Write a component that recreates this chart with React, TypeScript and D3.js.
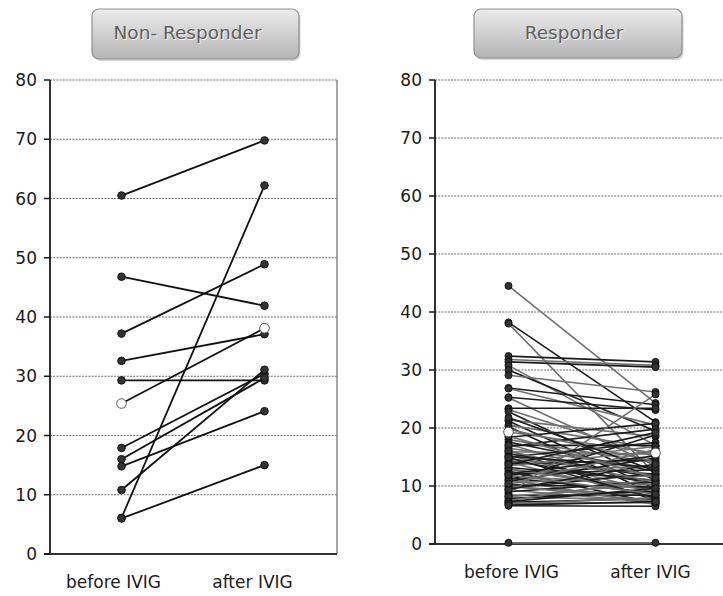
import React from "react";
import * as d3 from "d3";

// categories + tick values
const groups = ["before IVIG", "after IVIG"];
const yTicks = [0, 10, 20, 30, 40, 50, 60, 70, 80];

// Non-Responder: paired values (before -> after)
const nonRespBefore = [60.5, 46.8, 37.2, 6.1, 32.6, 25.4, 29.3, 17.9, 16.0, 14.8, 10.8, 6.0];
const nonRespAfter = [69.8, 41.9, 48.9, 62.2, 37.1, 38.1, 29.3, 30.4, 29.7, 24.1, 31.1, 15.0];
const nonRespOpen = [5];

// Responder: paired values (before -> after)
const respBefore = [
  44.5, 38.2, 38.0, 32.4, 31.8, 31.4, 30.8, 30.0, 29.1, 26.9, 26.8, 25.3, 25.2, 23.4,
  23.2, 22.8, 21.4, 21.2, 20.5, 20.2, 19.3, 18.4, 18.0, 17.6, 17.2, 16.8, 16.5, 16.2,
  15.9, 15.6, 15.3, 15.0, 14.7, 14.4, 14.1, 13.8, 13.5, 13.2, 12.9, 12.6, 12.3, 12.0,
  11.7, 11.4, 11.1, 10.8, 10.5, 10.2, 9.9, 9.6, 9.3, 9.0, 8.7, 8.4, 8.1, 7.8, 7.5, 7.2,
  6.9, 6.6, 0.2, 17.0, 14.0, 11.0, 19.8, 21.8, 16.0, 15.1, 13.0, 12.1, 10.0, 9.4, 8.2,
  7.3, 18.6, 14.9, 11.9, 13.7, 7.0, 6.7, 10.4,
];
const respAfter = [
  24.3, 21.0, 12.0, 31.4, 30.8, 30.5, 17.0, 19.5, 26.2, 24.0, 20.5, 23.1, 13.5, 23.4,
  15.0, 11.0, 18.5, 9.5, 16.5, 8.5, 15.7, 20.8, 14.0, 12.5, 10.0, 19.8, 13.0, 7.5,
  15.5, 11.5, 9.0, 17.5, 12.0, 10.5, 8.0, 14.5, 16.0, 11.0, 9.5, 7.0, 13.5, 12.8,
  10.2, 8.8, 6.8, 14.8, 11.8, 9.8, 8.3, 12.2, 7.2, 10.8, 25.8, 8.4, 7.6, 9.2, 11.2, 7.8,
  8.0, 6.5, 0.2, 17.0, 16.8, 18.8, 14.2, 12.6, 10.6, 13.2, 9.1, 15.2, 7.4, 13.8, 10.4,
  9.6, 11.4, 7.9, 8.6, 19.2, 7.1, 7.3, 16.3,
];
const respOpen = [20];

const W = 723;
const H = 596;
const FONT = "DejaVu Sans, Liberation Sans, sans-serif";

type PanelProps = {
  title: string;
  before: number[];
  after: number[];
  open: number[];
  axisX: number;
  plotRight: number;
  xRangeRight: number;
  yBottom: number;
  yTop: number;
  box: [number, number, number, number];
  titleShift: number;
  labelShift: number[];
  grayLines: boolean;
  border: boolean;
  gradId: string;
};

function Panel(p: PanelProps) {
  const x = d3.scalePoint<string>().domain(groups).range([p.axisX, p.xRangeRight]).padding(0.5);
  const y = d3.scaleLinear().domain([0, 80]).range([p.yBottom, p.yTop]);
  const bx = x(groups[0])!;
  const ax = x(groups[1])!;
  const [boxX, boxY, boxW, boxH] = p.box;
  const dotR = p.grayLines ? 3.5 : 3.8;

  return (
    <g>
      {/* title button */}
      <rect x={boxX + 1.5} y={boxY + 2} width={boxW} height={boxH} rx={7} fill="#bdbdbd" opacity={0.6} />
      <rect x={boxX} y={boxY} width={boxW} height={boxH} rx={7} fill={`url(#${p.gradId})`} stroke="#8f8f8f" strokeWidth={1.2} />
      <text
        x={boxX + boxW / 2 + p.titleShift + 1}
        y={boxY + 31}
        textAnchor="middle"
        fontFamily={FONT}
        fontSize={18.5}
        fill="#f4f4f4"
      >
        {p.title}
      </text>
      <text
        x={boxX + boxW / 2 + p.titleShift}
        y={boxY + 30}
        textAnchor="middle"
        fontFamily={FONT}
        fontSize={18.5}
        fill="#5e5e5e"
      >
        {p.title}
      </text>

      {/* gridlines */}
      {yTicks.filter((t) => t > 0).map((t) => (
        <line key={t} x1={p.axisX} x2={p.plotRight} y1={y(t)} y2={y(t)} stroke="#6e6e6e" strokeWidth={1.2} strokeDasharray="2,1.2" />
      ))}
      {p.border && (
        <line x1={p.plotRight} x2={p.plotRight} y1={y(80)} y2={y(0)} stroke="#777" strokeWidth={1.3} />
      )}

      {/* axes */}
      <line x1={p.axisX} x2={p.axisX} y1={y(80)} y2={y(0)} stroke="#1a1a1a" strokeWidth={1.8} />
      <line x1={p.axisX - 6} x2={p.plotRight} y1={y(0)} y2={y(0)} stroke="#333" strokeWidth={1.8} />
      {yTicks.map((t) => (
        <g key={t}>
          <line x1={p.axisX - 6} x2={p.axisX} y1={y(t)} y2={y(t)} stroke="#1a1a1a" strokeWidth={1.5} />
          <text x={p.axisX - 13} y={y(t)} dy="0.36em" textAnchor="end" fontFamily={FONT} fontSize={17} fill="#1a1a1a">
            {t}
          </text>
        </g>
      ))}
      {groups.map((g, i) => (
        <text key={g} x={x(g)! + p.labelShift[i]} y={p.yBottom + 34} textAnchor="middle" fontFamily={FONT} fontSize={17} fill="#1a1a1a">
          {g}
        </text>
      ))}

      {/* paired lines */}
      {p.before.map((b, i) => (
        <line
          key={"l" + i}
          x1={bx}
          x2={ax}
          y1={y(b)}
          y2={y(p.after[i])}
          stroke={p.grayLines ? (i % 2 === 0 ? "#6f6f6f" : "#1c1c1c") : "#111"}
          strokeWidth={p.grayLines ? 1.6 : 1.8}
        />
      ))}
      {/* points */}
      {p.before.map((b, i) => (
        <g key={"p" + i}>
          <circle cx={bx} cy={y(b)} r={dotR} fill="#333" stroke="#111" strokeWidth={1} />
          <circle cx={ax} cy={y(p.after[i])} r={dotR} fill="#333" stroke="#111" strokeWidth={1} />
        </g>
      ))}
      {/* open markers drawn on top */}
      {p.open.map((i) => (
        <g key={"o" + i}>
          <circle cx={bx} cy={y(p.before[i])} r={4.8} fill="#fff" stroke="#555" strokeWidth={1} />
          <circle cx={ax} cy={y(p.after[i])} r={4.8} fill="#fff" stroke="#555" strokeWidth={1} />
        </g>
      ))}
    </g>
  );
}

export default function App() {
  return (
    <svg width={W} height={H} style={{ position: "absolute", left: 0, top: 0, background: "#fff" }}>
      <defs>
        <linearGradient id="btnL" x1="0" y1="0" x2="0" y2="1">
          <stop offset="0%" stopColor="#ececec" />
          <stop offset="100%" stopColor="#b4b4b4" />
        </linearGradient>
        <linearGradient id="btnR" x1="0" y1="0" x2="0" y2="1">
          <stop offset="0%" stopColor="#ececec" />
          <stop offset="100%" stopColor="#b4b4b4" />
        </linearGradient>
      </defs>
      <Panel
        title="Non- Responder"
        before={nonRespBefore}
        after={nonRespAfter}
        open={nonRespOpen}
        axisX={50}
        plotRight={337}
        xRangeRight={336}
        yBottom={554}
        yTop={80}
        box={[92, 9, 207, 50]}
        titleShift={-8}
        labelShift={[-8, -12]}
        grayLines={false}
        border={true}
        gradId="btnL"
      />
      <Panel
        title="Responder"
        before={respBefore}
        after={respAfter}
        open={respOpen}
        axisX={435}
        plotRight={723}
        xRangeRight={729}
        yBottom={544}
        yTop={80}
        box={[474, 9, 208, 49]}
        titleShift={-4}
        labelShift={[3, -5]}
        grayLines={true}
        border={false}
        gradId="btnR"
      />
    </svg>
  );
}
